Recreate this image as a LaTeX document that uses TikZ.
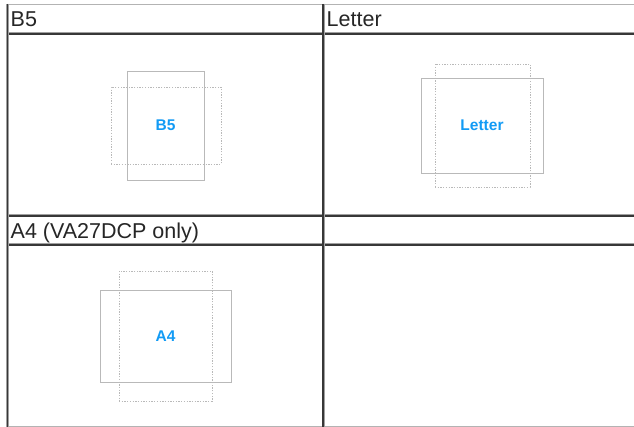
\documentclass[tikz,border=0pt]{standalone}
\usepackage{fontspec}
\setmainfont{Liberation Sans}
\usetikzlibrary{positioning}
\definecolor{labelblue}{RGB}{18,155,245}
\definecolor{rulegray}{RGB}{55,55,55}
\definecolor{edgegray}{RGB}{160,160,160}
\definecolor{sheetgray}{RGB}{185,185,185}

\begin{document}
\begin{tikzpicture}[x=1pt, y=-1pt,
  tableline/.style={line width=3pt, draw=edgegray, postaction={draw=rulegray, line width=1.5pt}},
  outerline/.style={line width=1.2pt, draw=edgegray!80},
  head/.style={anchor=base west, inner sep=0pt, text=black!85, font=\fontsize{21.5}{25}\selectfont},
  sheet/.style={draw=sheetgray, line width=0.9pt, inner sep=0pt, text=labelblue, font=\fontsize{15.5}{18}\selectfont\bfseries},
  rotsheet/.style={draw=sheetgray, line width=0.9pt, dash pattern=on 1.3pt off 1.4pt, inner sep=0pt}]
\useasboundingbox (0,0) rectangle (634,427);
\fill[white] (0,0) rectangle (634,427);
% table rules
\draw[outerline] (7,4.5) -- (634,4.5);
\draw[outerline] (7,426.6) -- (634,426.6);
\draw[tableline] (7,34) -- (634,34);
\draw[tableline] (7,216) -- (634,216);
\draw[tableline] (7,245) -- (634,245);
\draw[tableline] (7.5,4) -- (7.5,427);
\draw[tableline] (323,4) -- (323,427);
% headers
\node[head] (b5head) at (10.5,27) {B5};
\node[head] (letterhead) at (326.5,27) {Letter};
\node[head] (a4head) at (10.5,239) {A4 (VA27DCP only)};
% paper outlines
\node[rotsheet, minimum width=110pt, minimum height=77pt] (b5rot) at (166,125.5) {};
\node[sheet, minimum width=77pt, minimum height=109pt] (b5) at (165.5,125.5) {B5};
\node[rotsheet, minimum width=95pt, minimum height=123pt] (letterrot) at (482.5,125.5) {};
\node[sheet, minimum width=122pt, minimum height=95pt] (letter) at (482,125.5) {Letter};
\node[rotsheet, minimum width=93pt, minimum height=130pt] (a4rot) at (165.5,336) {};
\node[sheet, minimum width=131pt, minimum height=92pt] (a4) at (165.5,336) {A4};
\end{tikzpicture}
\end{document}
